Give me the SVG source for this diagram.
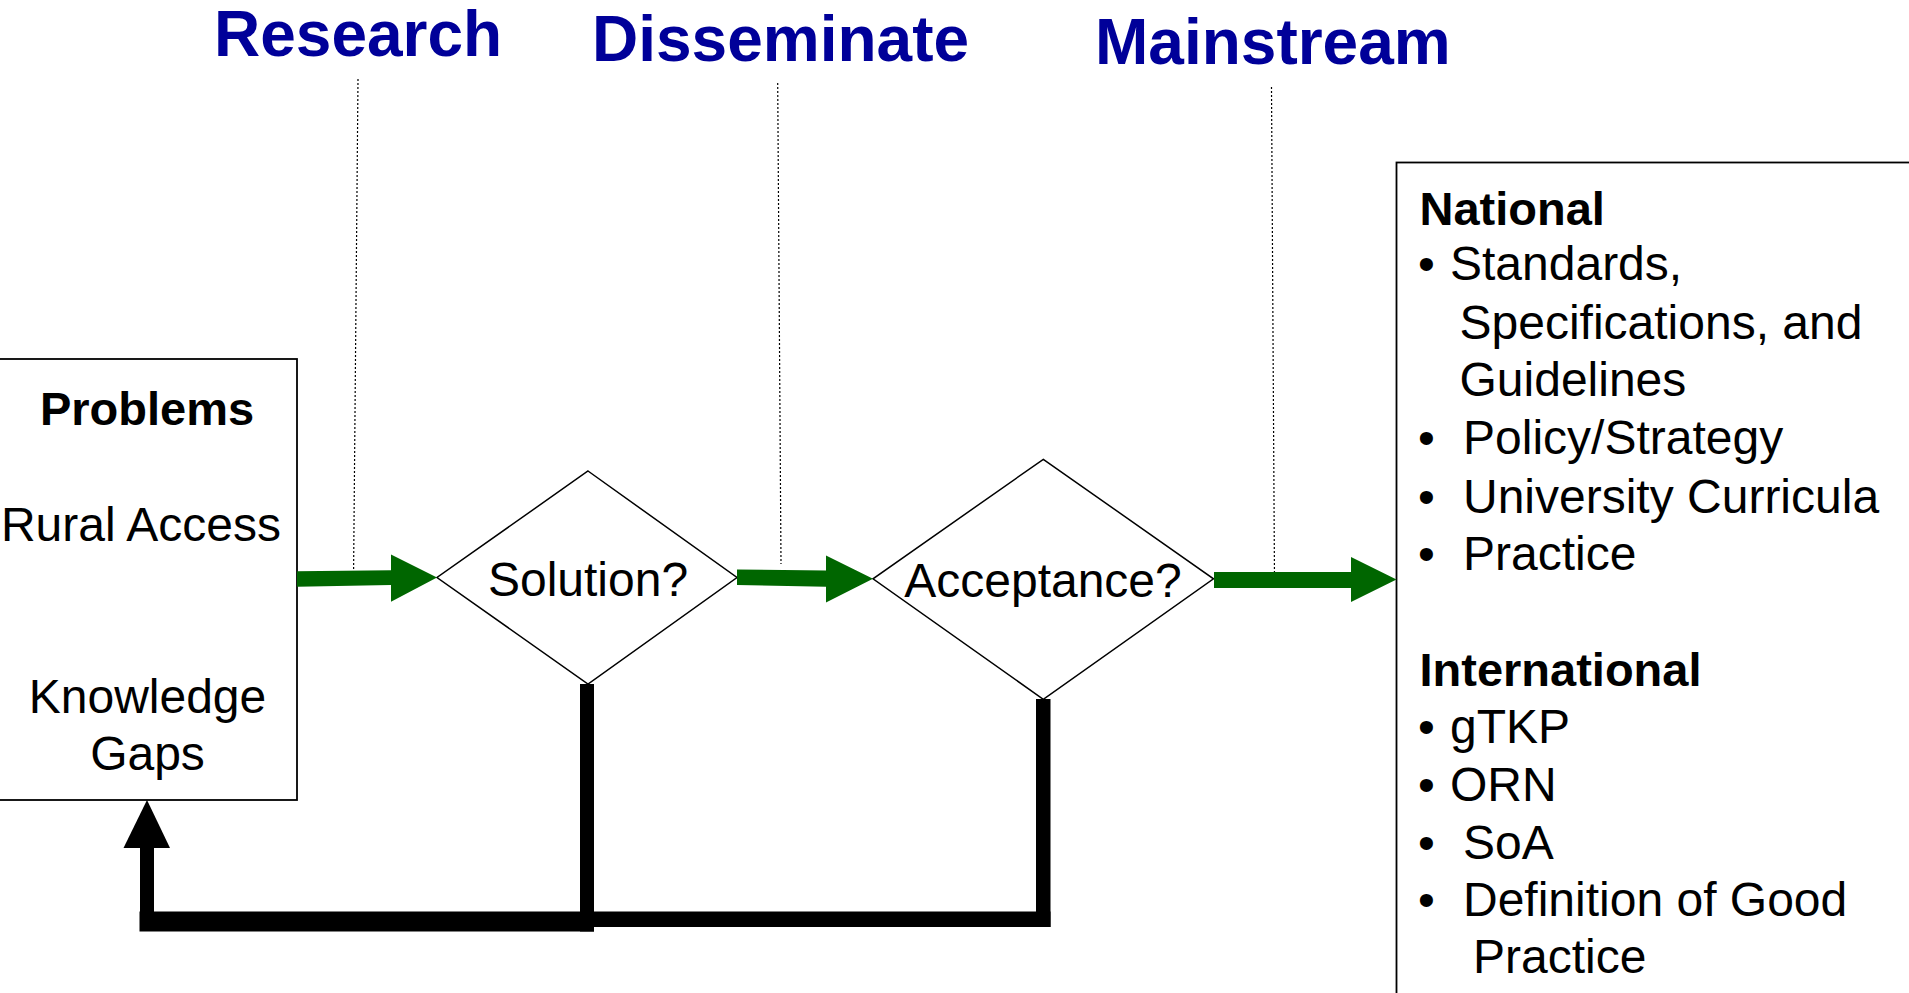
<svg xmlns="http://www.w3.org/2000/svg" width="1909" height="993" viewBox="0 0 1909 993">
<style>
  .title { font-family: "Liberation Sans", Arial, sans-serif; font-weight: bold; font-size: 64px; fill: #000099; }
  .t { font-family: "Liberation Sans", Arial, sans-serif; font-size: 48px; fill: #000000; }
  .tb { font-family: "Liberation Sans", Arial, sans-serif; font-size: 47px; font-weight: bold; fill: #000000; }
  .box { fill: #ffffff; stroke: #000000; stroke-width: 1.8; }
  .dia { fill: #ffffff; stroke: #000000; stroke-width: 1.5; }
  .dot { fill: none; stroke: #000000; stroke-width: 1.2; stroke-dasharray: 2 2; }
  .green { fill: #006600; }
  .black { fill: #000000; }
</style>
<rect width="1909" height="993" fill="#ffffff"/>
<g id="phase-labels">
  <text class="title" x="214" y="56">Research</text>
  <text class="title" x="592" y="61">Disseminate</text>
  <text class="title" x="1095" y="64">Mainstream</text>
</g>
<g id="phase-dividers">
  <line class="dot" x1="358" y1="79" x2="353.5" y2="581"/>
  <line class="dot" x1="777.7" y1="83" x2="781" y2="564"/>
  <line class="dot" x1="1271.5" y1="87" x2="1274.5" y2="580"/>
</g>
<g id="node-problems">
  <rect class="box" x="-10" y="359" width="307" height="441"/>
  <text class="tb" x="147" y="425" text-anchor="middle">Problems</text>
  <text class="t" x="141" y="541" text-anchor="middle">Rural Access</text>
  <text class="t" x="147.5" y="713" text-anchor="middle">Knowledge</text>
  <text class="t" x="147.5" y="770" text-anchor="middle">Gaps</text>
</g>
<g id="node-solution">
  <polygon class="dia" points="588,471 737,577.5 588,684 437,577.5"/>
  <text class="t" x="588" y="596" text-anchor="middle">Solution?</text>
</g>
<g id="node-acceptance">
  <polygon class="dia" points="1043.3,459.3 1213.5,578.8 1043.3,699.3 873,578.8"/>
  <text class="t" x="1043" y="597" text-anchor="middle">Acceptance?</text>
</g>
<g id="node-outcomes">
  <rect class="box" x="1396.5" y="162.5" width="530" height="850"/>
  <text class="tb" x="1419.5" y="225">National</text>
  <text class="t" y="280"><tspan x="1418">•</tspan><tspan x="1450">Standards,</tspan></text>
  <text class="t" x="1459.5" y="339">Specifications, and</text>
  <text class="t" x="1459.5" y="396">Guidelines</text>
  <text class="t" y="454"><tspan x="1418">•</tspan><tspan x="1463">Policy/Strategy</tspan></text>
  <text class="t" y="512.5"><tspan x="1418">•</tspan><tspan x="1463">University Curricula</tspan></text>
  <text class="t" y="570"><tspan x="1418">•</tspan><tspan x="1463">Practice</tspan></text>
  <text class="tb" x="1419.5" y="686">International</text>
  <text class="t" y="743"><tspan x="1418">•</tspan><tspan x="1450">gTKP</tspan></text>
  <text class="t" y="801"><tspan x="1418">•</tspan><tspan x="1450">ORN</tspan></text>
  <text class="t" y="859"><tspan x="1418">•</tspan><tspan x="1463">SoA</tspan></text>
  <text class="t" y="916"><tspan x="1418">•</tspan><tspan x="1463">Definition of Good</tspan></text>
  <text class="t" x="1473" y="973">Practice</text>
</g>
<g id="connectors">
  <path class="green" d="M297,571.2 L391,570.2 L391,554.6 L437,577.5 L391,601.7 L391,585 L297,586.8 Z"/>
  <path class="green" d="M737,569.5 L826,570.5 L826,555.6 L873,578.8 L826,602.4 L826,586.8 L737,585 Z"/>
  <path class="green" d="M1214,572 L1351,572 L1351,557 L1396.5,579.5 L1351,602 L1351,588 L1214,588 Z"/>
  <rect class="black" x="1036" y="699" width="14.5" height="228"/>
  <rect class="black" x="580" y="911.5" width="470.5" height="15.5"/>
  <rect class="black" x="580" y="684" width="14" height="247.5"/>
  <rect class="black" x="139.5" y="911.5" width="454.5" height="20"/>
  <rect class="black" x="140" y="846" width="14" height="85"/>
  <polygon class="black" points="123.5,848 170,848 147,800"/>
</g>
</svg>
